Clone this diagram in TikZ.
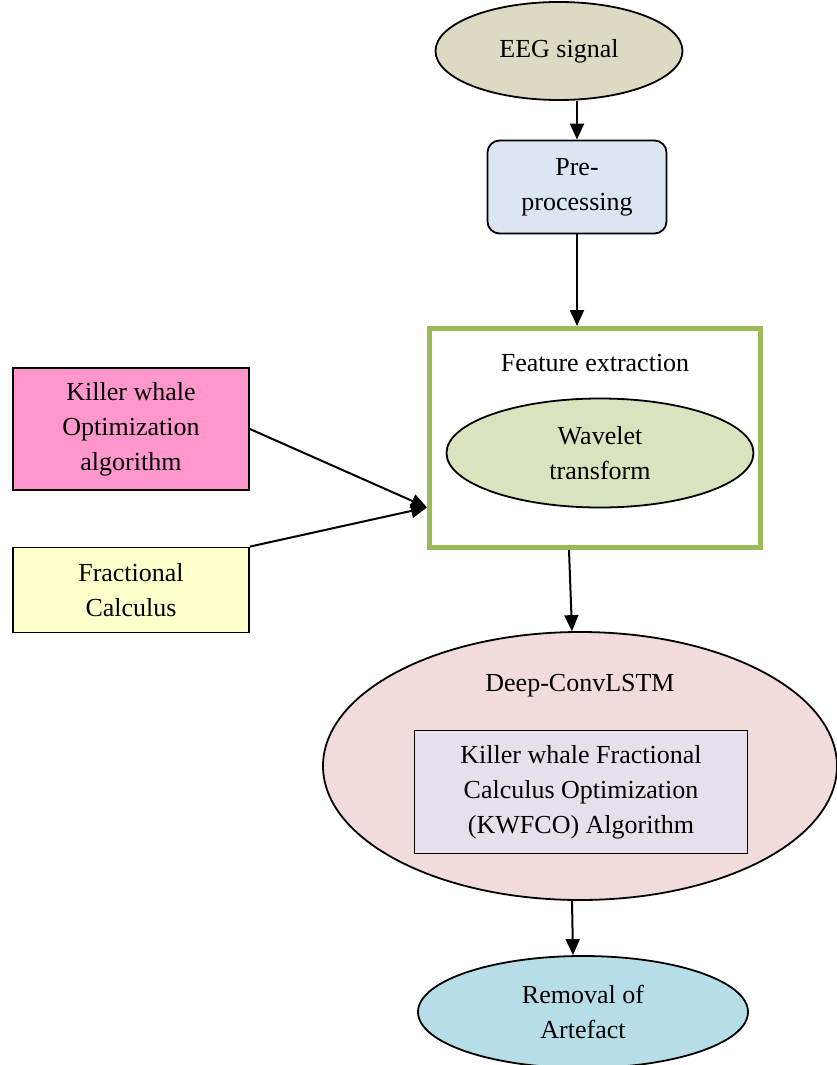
\documentclass[tikz,border=0pt]{standalone}
\usepackage{fontspec}
\setmainfont{Liberation Serif}
\usepackage{xcolor}
\usetikzlibrary{shapes,arrows.meta,positioning,calc}

\definecolor{eegC}{HTML}{DDD9C3}
\definecolor{preC}{HTML}{DCE6F2}
\definecolor{kwoC}{HTML}{FF97CC}
\definecolor{fracC}{HTML}{FFFFCC}
\definecolor{featC}{HTML}{9BBB59}
\definecolor{waveC}{HTML}{D7E4BD}
\definecolor{deepC}{HTML}{F2DCDB}
\definecolor{kwfcoC}{HTML}{E5E0EC}
\definecolor{remC}{HTML}{B7DEE8}

\begin{document}
\begin{tikzpicture}[
            x=0.5pt, y=-0.5pt,
            every node/.style={font=\fontsize{13}{17.5}\selectfont, align=center},
            box/.style={draw, line width=0.9pt, inner sep=0pt},
            oval/.style={ellipse, draw, line width=0.9pt, inner sep=0pt},
            arr/.style={-{Triangle[length=8pt,width=7pt]}, line width=1pt},
        ]
            \useasboundingbox (0,0) rectangle (836,1065);

            % main chain
            \node[oval, fill=eegC, minimum width=123.5pt, minimum height=49pt] (eeg) at (559,51) {EEG signal};
            \node[box, rounded corners=6pt, fill=preC, minimum width=89.5pt, minimum height=46.5pt] (pre) at (577,187) {Pre-\\processing};
            \node[draw=featC, line width=2.5pt, minimum width=165.5pt, minimum height=109.5pt] (feat) at (595,438) {};
            \node (featlbl) at (595,363) {Feature extraction};
            \node[oval, fill=waveC, minimum width=153.5pt, minimum height=54.5pt] (wave) at (600,453) {Wavelet\\transform};
            \node[oval, fill=deepC, minimum width=257pt, minimum height=134pt] (deep) at (580,766) {};
            \node (deeplbl) at (580,686) {Deep-ConvLSTM};
            \node[box, fill=kwfcoC, minimum width=166.5pt, minimum height=61.5pt] (kwfco) at (581,792) {Killer whale Fractional\\Calculus Optimization\\(KWFCO) Algorithm};
            \node[oval, fill=remC, minimum width=165pt, minimum height=56pt] (rem) at (583,1012) {Removal of\\Artefact};

            % inputs on the left
            \node[box, fill=kwoC, minimum width=118pt, minimum height=61pt] (kwo) at (131,429) {Killer whale\\Optimization\\algorithm};
            \node[box, fill=fracC, minimum width=118pt, minimum height=42.5pt] (frac) at (131,590) {Fractional\\Calculus};
            \coordinate (fin) at ($(feat.south west)!0.19!(feat.north west)$);

            \draw[arr] (eeg.south -| pre.north) -- (pre.north);
            \draw[arr] (pre.south) -- (pre.south |- feat.north);
            \draw[arr] (kwo.east) -- (fin);
            \draw[arr] (frac.north east) -- (fin);
            \draw[arr] ([xshift=-13pt]feat.south) -- ([xshift=-4pt]deep.north);
            \draw[arr] ([xshift=-4pt]deep.south) -- ([xshift=-5pt]rem.north);
        \end{tikzpicture}
\end{document}
